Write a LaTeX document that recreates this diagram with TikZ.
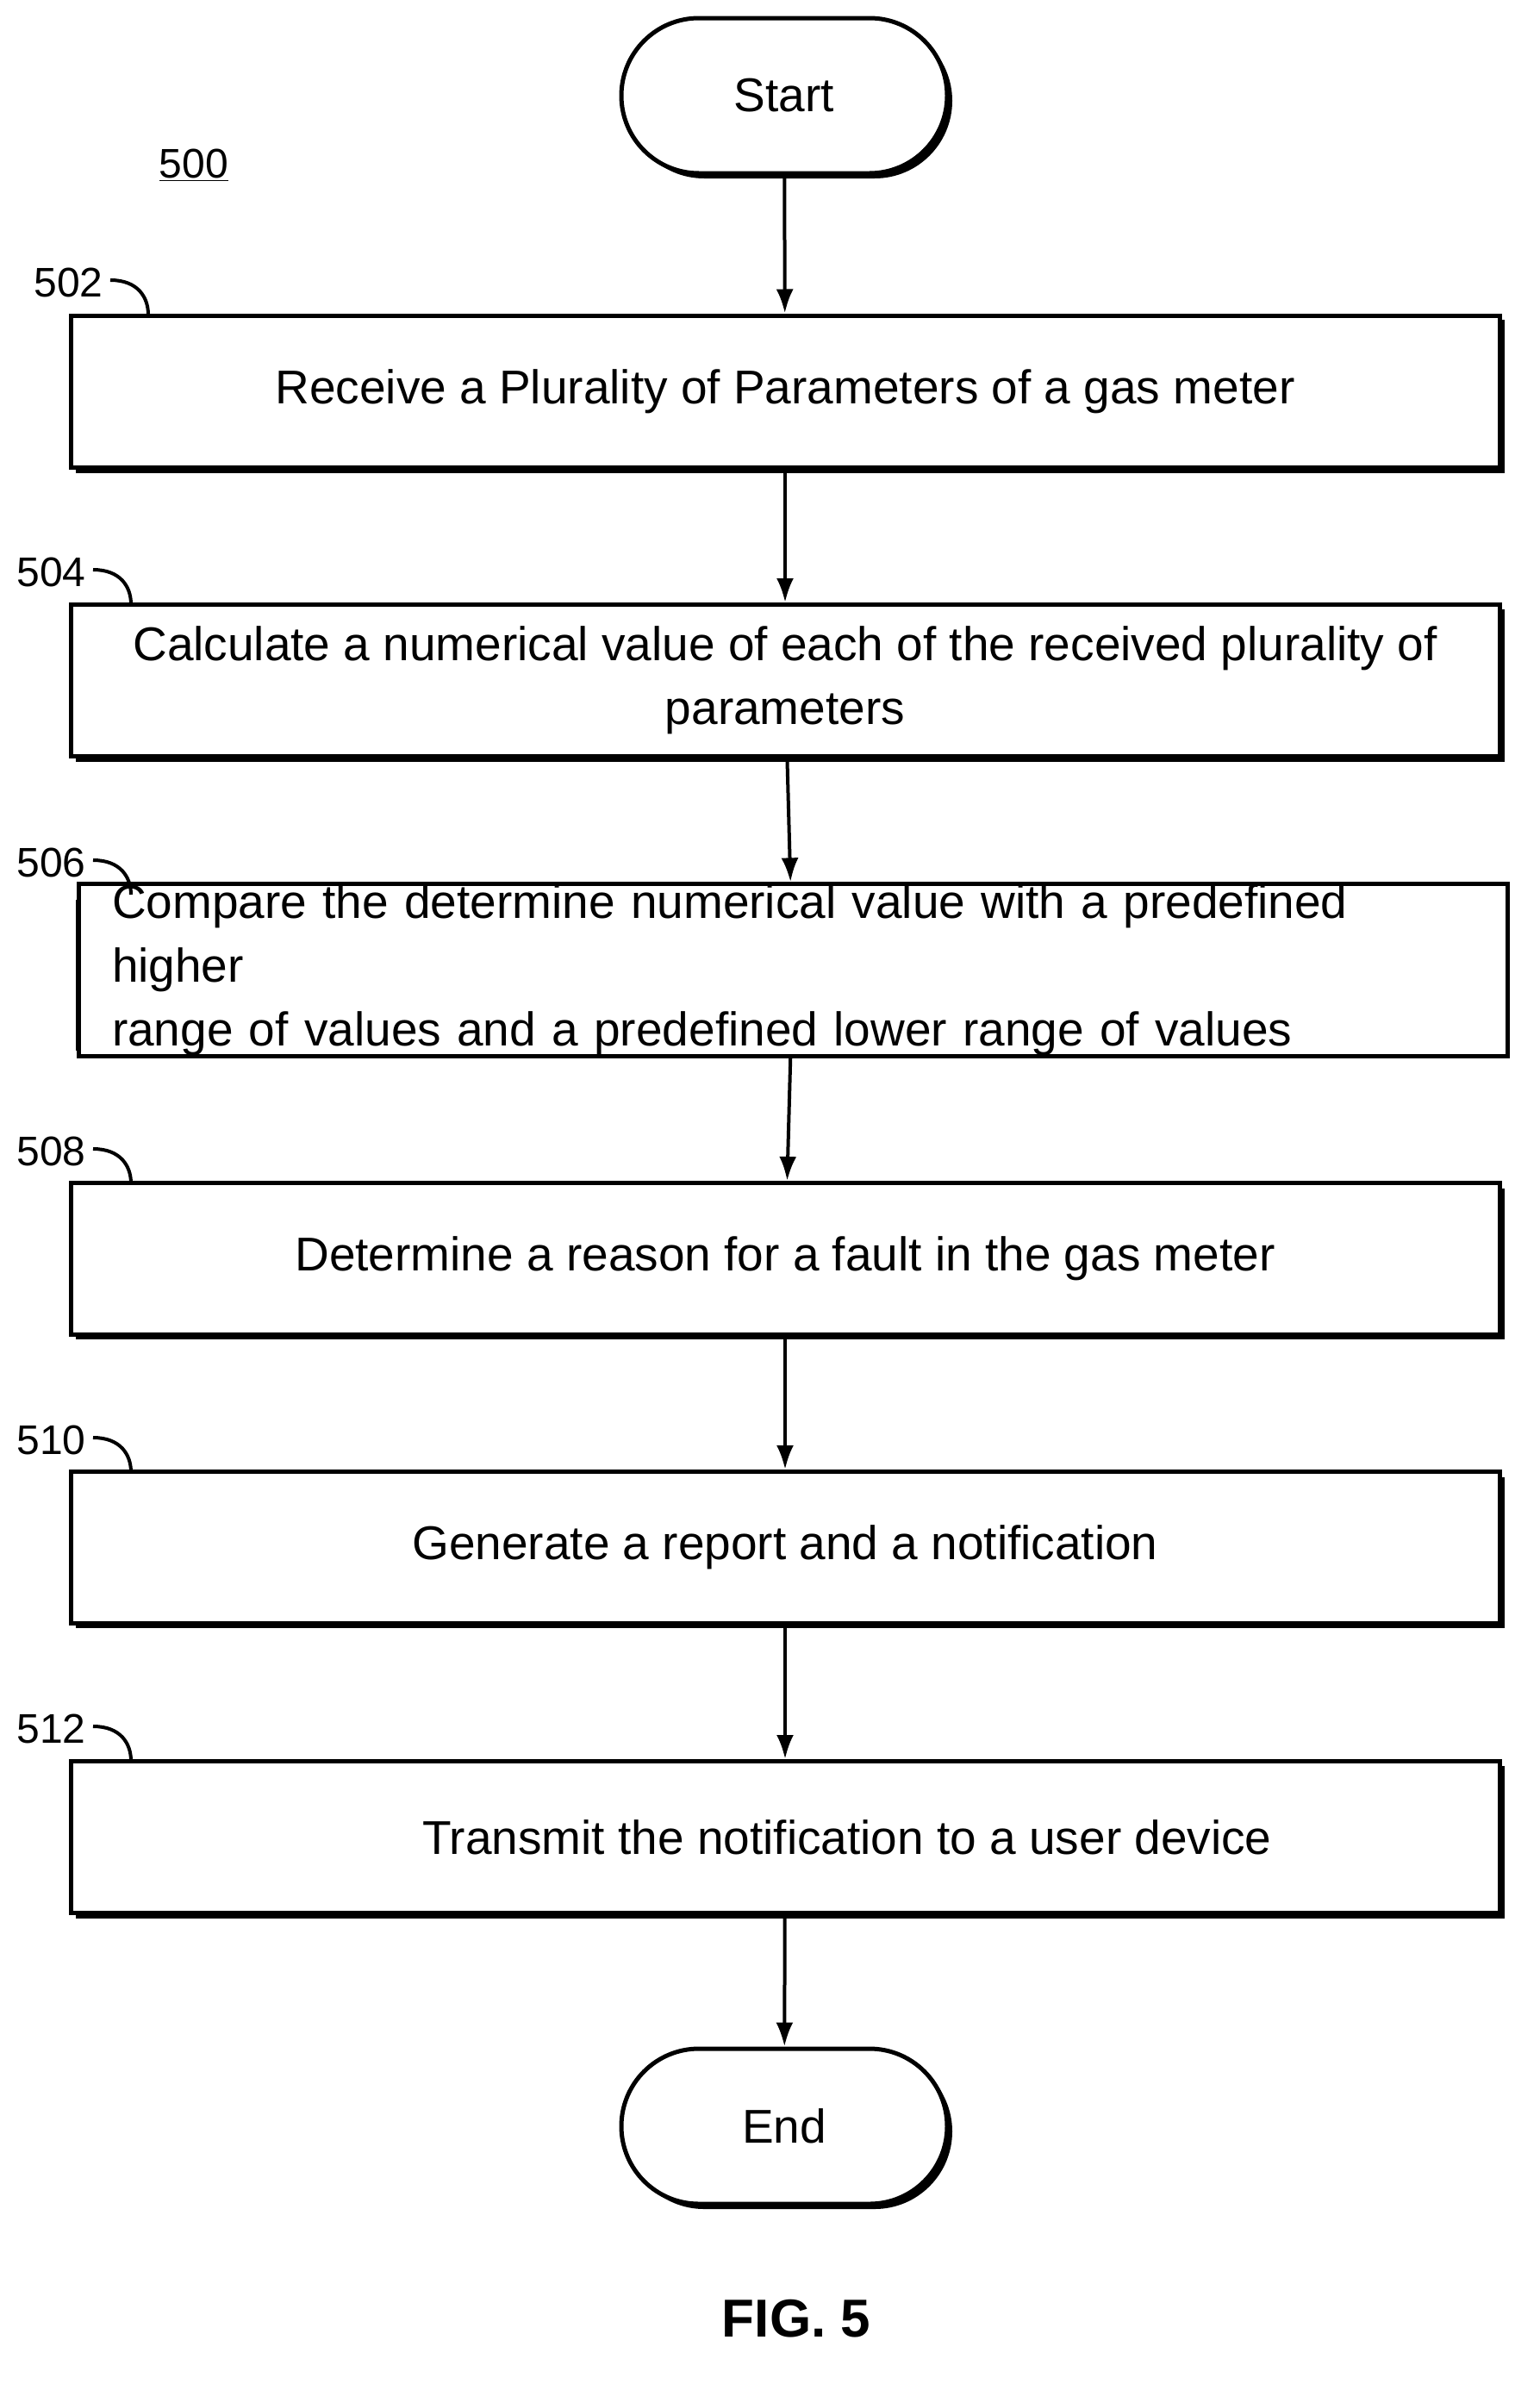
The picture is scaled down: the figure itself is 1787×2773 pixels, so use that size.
\documentclass[tikz,border=0pt]{standalone}
\usepackage{fontspec}
\setmainfont{Liberation Sans}
\usetikzlibrary{arrows.meta}
\begin{document}
\begin{tikzpicture}[x=0.5pt,y=-0.5pt,
  box/.style={draw,line width=2.5pt,minimum width=829pt,minimum height=88pt,inner sep=0pt,fill=white,font=\fontsize{27.5}{37}\selectfont,align=center},
  term/.style={draw,line width=2.5pt,rounded corners=45pt,minimum width=189pt,minimum height=90pt,fill=white,font=\fontsize{27.5}{34}\selectfont},
  arr/.style={line width=2pt,-{Latex[length=14pt,width=10pt]}},
  lab/.style={font=\fontsize{24}{28}\selectfont,anchor=east,inner sep=0pt},
  tick/.style={line width=2pt}]
\useasboundingbox (0,0) rectangle (1787,2773);
\fill[white] (0,0) rectangle (1787,2773);
% shadows
\foreach \t/\b in {365/543,701/878,1038/1213,1373/1548,1708/1883,2043/2220}{
  \fill[black] (88,\t+6) rectangle (1746,\b+6);}
\fill[black,rounded corners=45pt] (727,27) rectangle (1105,207);
\fill[black,rounded corners=45pt] (727,2383) rectangle (1105,2563);
\node[term] (start) at (910,111) {Start};
\node[term] (end) at (910,2467) {End};
\node[box] (b1) at (911,454) {Receive a Plurality of Parameters of a gas meter};
\node[box] (b2) at (911,789.5) {Calculate a numerical value of each of the received plurality of\\parameters};
\node[box,align=left,text width=790pt] (b3) at (920,1125.5) {Compare the determine numerical value with a predefined higher\\range of values and a predefined lower range of values};
\node[box] (b4) at (911,1460.5) {Determine a reason for a fault in the gas meter};
\node[box] (b5) at (911,1795.5) {Generate a report and a notification};
\node[box] (b6) at (911,2131.5) {\hspace*{72pt}Transmit the notification to a user device};
\draw[arr] (start) -- (b1);
\draw[arr] (b1) -- (b2);
\draw[arr] (b2) -- (b3);
\draw[arr] (b3) -- (b4);
\draw[arr] (b4) -- (b5);
\draw[arr] (b5) -- (b6);
\draw[arr] (b6) -- (end);
\node[font=\fontsize{24}{28}\selectfont] (n500) at (225,192) {\underline{500}};
\foreach \n/\t/\x in {502/365/120,504/701/100,506/1038/100,508/1373/100,510/1708/100,512/2043/100}{
  \node[lab] (l\n) at (\x,\t-37) {\n};
  \draw[tick] (\x+8,\t-40) .. controls (\x+40,\t-40) and (\x+52,\t-20) .. (\x+52,\t);
}
\node[font=\bfseries\fontsize{31}{36}\selectfont] (fig) at (924,2690) {FIG. 5};
\end{tikzpicture}
\end{document}
